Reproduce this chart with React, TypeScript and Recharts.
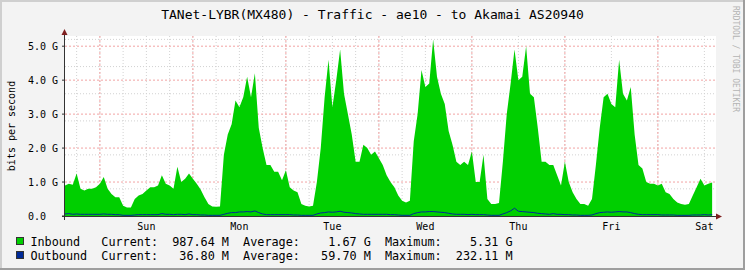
import { ComposedChart, Area, Line, XAxis, YAxis, CartesianGrid } from 'recharts';

// Weekly traffic, one sample per hour, starting Sat 15:00 (values in Gbit/s)
const inbound = [
  0.9, 0.95, 0.92, 1.25, 0.8, 0.75, 0.8, 0.8, 0.85, 0.95, 1.15, 0.8,
  0.65, 0.55, 0.55, 0.3, 0.25, 0.25, 0.5, 0.6, 0.65, 0.75, 0.85, 0.85,
  0.9, 1.2, 0.95, 0.9, 0.8, 1.45, 1.0, 1.1, 1.25, 1.1, 0.95, 0.78,
  0.55, 0.35, 0.28, 0.27, 0.28, 1.8, 2.4, 2.7, 3.4, 3.2, 3.5, 4.1,
  3.5, 4.2, 2.6, 2.0, 1.5, 1.5, 1.3, 1.3, 1.05, 1.35, 0.85, 0.75,
  0.7, 0.35, 0.3, 0.28, 0.3, 1.0, 2.0, 3.5, 4.6, 3.2, 4.0, 4.9,
  3.6, 3.0, 2.4, 1.6, 1.6, 2.1, 2.0, 1.8, 1.9, 1.7, 1.5, 1.2,
  1.0, 0.85, 0.6, 0.45, 0.4, 0.45, 2.2, 3.0, 4.3, 3.8, 3.9, 5.2,
  4.1, 3.6, 3.3, 2.5, 2.1, 1.6, 1.5, 1.6, 1.5, 1.9, 1.0, 1.0,
  1.8, 0.5, 0.35, 0.35, 0.38, 1.6, 3.0, 3.9, 4.9, 4.0, 4.1, 5.0,
  3.6, 3.5, 2.6, 1.6, 1.6, 1.5, 1.5, 1.2, 0.9, 1.6, 1.0, 0.7,
  0.5, 0.35, 0.35, 0.3, 0.5, 1.5, 2.6, 3.5, 3.6, 3.3, 3.2, 4.6,
  3.6, 3.4, 3.8, 2.4, 1.5, 1.4, 1.0, 0.95, 0.95, 0.9, 0.95, 0.7,
  0.65, 0.5, 0.4, 0.35, 0.33, 0.35, 0.6, 0.85, 1.1, 0.9, 0.95, 0.99,
];

const outbound = [
  0.06, 0.07, 0.05, 0.06, 0.05, 0.05, 0.05, 0.05, 0.05, 0.05, 0.06, 0.05,
  0.05, 0.04, 0.04, 0.02, 0.02, 0.02, 0.03, 0.04, 0.04, 0.04, 0.04, 0.04,
  0.04, 0.07, 0.05, 0.05, 0.04, 0.05, 0.05, 0.04, 0.06, 0.04, 0.04, 0.03,
  0.03, 0.02, 0.02, 0.02, 0.02, 0.05, 0.08, 0.10, 0.10, 0.12, 0.12, 0.13,
  0.12, 0.15, 0.10, 0.06, 0.04, 0.04, 0.04, 0.04, 0.04, 0.04, 0.04, 0.03,
  0.03, 0.02, 0.02, 0.02, 0.02, 0.06, 0.09, 0.10, 0.12, 0.11, 0.12, 0.14,
  0.11, 0.10, 0.09, 0.07, 0.06, 0.05, 0.05, 0.05, 0.05, 0.05, 0.05, 0.05,
  0.04, 0.04, 0.03, 0.02, 0.02, 0.02, 0.07, 0.10, 0.12, 0.12, 0.13, 0.13,
  0.12, 0.11, 0.10, 0.08, 0.06, 0.05, 0.05, 0.05, 0.04, 0.05, 0.04, 0.04,
  0.04, 0.03, 0.02, 0.02, 0.02, 0.06, 0.10, 0.15, 0.23, 0.14, 0.13, 0.12,
  0.11, 0.10, 0.08, 0.07, 0.06, 0.05, 0.07, 0.05, 0.05, 0.04, 0.04, 0.03,
  0.03, 0.02, 0.02, 0.02, 0.03, 0.07, 0.10, 0.11, 0.12, 0.11, 0.12, 0.13,
  0.12, 0.12, 0.10, 0.07, 0.05, 0.04, 0.04, 0.04, 0.04, 0.04, 0.03, 0.03,
  0.03, 0.03, 0.02, 0.02, 0.02, 0.02, 0.03, 0.03, 0.03, 0.04, 0.03, 0.04,
];

// x axis: hours since start; labels at noon, red lines at midnight
const dayLabels = ['Sun', 'Mon', 'Tue', 'Wed', 'Thu', 'Fri', 'Sat'];
const dayTicks = [21, 45, 69, 93, 117, 141, 165];
const midnights = [9, 33, 57, 81, 105, 129, 153];
const sixHours = [3, 9, 15, 21, 27, 33, 39, 45, 51, 57, 63, 69, 75, 81, 87, 93, 99, 105, 111, 117, 123, 129, 135, 141, 147, 153, 159, 165];

const yTicks = [0, 1, 2, 3, 4, 5];
const yLabels = ['0.0', '1.0 G', '2.0 G', '3.0 G', '4.0 G', '5.0 G'];
const yMinor = [0.2, 0.4, 0.6, 0.8, 1.2, 1.4, 1.6, 1.8, 2.2, 2.4, 2.6, 2.8, 3.2, 3.4, 3.6, 3.8, 4.2, 4.4, 4.6, 4.8, 5.2];

const legendNames = ['Inbound', 'Outbound'];
const legendColors = ['#00CF00', '#002A97'];
const currentVals = ['987.64 M', '36.80 M'];
const averageVals = ['1.67 G', '59.70 M'];
const maximumVals = ['5.31 G', '232.11 M'];

const data = inbound.map((v, i) => ({ h: i, inbound: v, outbound: outbound[i] }));

const MONO = '"DejaVu Sans Mono", monospace';

const YTick = ({ y, payload }: any) => {
  const idx = yTicks.indexOf(payload.value);
  return (
    <text x={28} y={y + 3.5} fontFamily={MONO} fontSize={10} fill="#000">
      {yLabels[idx]}
    </text>
  );
};

const XTick = ({ x, y, payload }: any) => {
  const idx = dayTicks.indexOf(payload.value);
  return (
    <text x={x} y={y + 12} textAnchor="middle" fontFamily={MONO} fontSize={10} fill="#000">
      {dayLabels[idx]}
    </text>
  );
};

// monospace legend row, each word placed on its column
const MonoRow = ({ text, x, y, cw }: { text: string; x: number; y: number; cw: number }) => {
  const parts: { s: string; i: number }[] = [];
  const re = /\S+/g;
  let m;
  while ((m = re.exec(text)) !== null) parts.push({ s: m[0], i: m.index });
  return (
    <g>
      {parts.map((p, k) => (
        <text key={k} x={x + p.i * cw} y={y} fontFamily={MONO} fontSize={11.8} fill="#000">
          {p.s}
        </text>
      ))}
    </g>
  );
};

export default function App() {
  const rows = legendNames.map(
    (n, i) =>
      n.padEnd(10) +
      'Current:' + currentVals[i].padStart(10) +
      '  Average:' + averageVals[i].padStart(10) +
      '  Maximum:' + maximumVals[i].padStart(10)
  );

  return (
    <div style={{ position: 'absolute', left: 0, top: 0, width: 745, height: 270, background: '#F3F3F3' }}>
      <ComposedChart
        width={745}
        height={270}
        data={data}
        margin={{ top: 36, right: 29, bottom: 0, left: 0 }}
        style={{ position: 'absolute', left: 0, top: 0 }}
      >
        <CartesianGrid
          horizontalValues={yMinor}
          verticalValues={sixHours}
          stroke="#D2D2D2"
          strokeDasharray="1 2"
          fill="#FFFFFF"
        />
        <CartesianGrid
          horizontalValues={[1, 2, 3, 4, 5]}
          verticalValues={midnights}
          stroke="#F2A3A3"
          strokeDasharray="2 2"
        />
        <XAxis
          dataKey="h"
          type="number"
          domain={[0, 168]}
          ticks={dayTicks}
          allowDataOverflow
          height={54}
          axisLine={false}
          tickLine={false}
          tickSize={0}
          tick={<XTick />}
        />
        <YAxis
          type="number"
          domain={[0, 5.3]}
          ticks={yTicks}
          allowDataOverflow
          width={65}
          axisLine={false}
          tickLine={{ stroke: '#333333' }}
          tickSize={3}
          tick={<YTick />}
        />
        <Area
          type="linear"
          dataKey="inbound"
          fill="#00CF00"
          fillOpacity={1}
          stroke="none"
          isAnimationActive={false}
        />
        <Line
          type="linear"
          dataKey="outbound"
          stroke="#002A97"
          strokeWidth={1}
          dot={false}
          isAnimationActive={false}
        />
      </ComposedChart>
      <svg width={745} height={270} style={{ position: 'absolute', left: 0, top: 0, pointerEvents: 'none' }}>
        {/* frame shading */}
        <line x1={0} y1={1} x2={745} y2={1} stroke="#CFCFCF" strokeWidth={2} />
        <line x1={1} y1={0} x2={1} y2={270} stroke="#CFCFCF" strokeWidth={2} />
        <line x1={0} y1={269} x2={745} y2={269} stroke="#9E9E9E" strokeWidth={2} />
        <line x1={744} y1={0} x2={744} y2={270} stroke="#9E9E9E" strokeWidth={2} />

        <text x={372.5} y={19} textAnchor="middle" fontFamily={MONO} fontSize={13} fill="#000">
          TANet-LYBR(MX480) - Traffic - ae10 - to Akamai AS20940
        </text>

        <text
          x={14.5}
          y={126}
          transform="rotate(-90 14.5 126)"
          textAnchor="middle"
          fontFamily={MONO}
          fontSize={10}
          fill="#000"
        >
          bits per second
        </text>

        <text
          x={732.5}
          y={6}
          transform="rotate(90 732.5 6)"
          fontFamily={MONO}
          fontSize={8}
          fill="#B4B4B4"
        >
          RRDTOOL / TOBI OETIKER
        </text>

        {/* axes with arrows */}
        <line x1={64.5} y1={220} x2={64.5} y2={33} stroke="#333333" strokeWidth={1} />
        <line x1={62} y1={216.5} x2={718} y2={216.5} stroke="#333333" strokeWidth={1} />
        <polygon points="64.5,29 61.5,35 67.5,35" fill="#7F1F1F" />
        <polygon points="722,216.5 716,213.5 716,219.5" fill="#7F1F1F" />

        {/* legend */}
        {rows.map((r, i) => (
          <g key={i}>
            <rect x={16.5} y={237.5 + i * 14} width={7} height={7} fill={legendColors[i]} stroke="#333333" strokeWidth={1} />
            <MonoRow text={r} x={30.4} y={246 + i * 14} cw={7.09} />
          </g>
        ))}
      </svg>
    </div>
  );
}
